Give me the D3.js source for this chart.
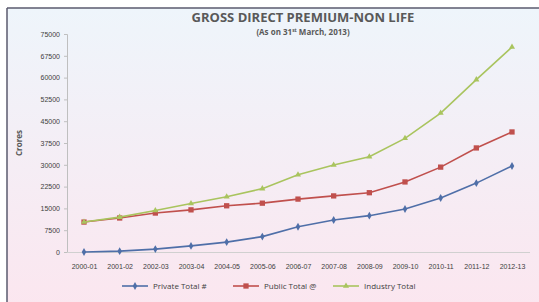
<!DOCTYPE html>
<html lang="en">
<head>
<meta charset="utf-8">
<title>Gross Direct Premium - Non Life</title>
<script src="https://d3js.org/d3.v7.min.js"></script>
<style>
  body { margin: 0; background: #fff; }
  svg { display: block; font-family: "Open Sans", "DejaVu Sans", sans-serif; }
  .title { font-size: 13px; font-weight: bold; fill: #595959; }
  .subtitle { font-size: 8px; font-weight: bold; fill: #595959; }
  .tick text { font-size: 7px; fill: #404040; }
  .legend text { font-size: 8px; fill: #404040; }
</style>
</head>
<body>
<svg width="539" height="302"></svg>
<script>
// data (Rs. crore)
const years = ["2000-01","2001-02","2002-03","2003-04","2004-05","2005-06","2006-07",
               "2007-08","2008-09","2009-10","2010-11","2011-12","2012-13"];
const privateTotal = [0, 300, 1000, 2100, 3400, 5300, 8700, 11000, 12500, 14800, 18600, 23700, 29600];
const publicTotal = [10300, 11700, 13400, 14500, 15900, 16800, 18200, 19300, 20400, 24100, 29200, 35800, 41300];
const industryTotal = [10300, 12000, 14300, 16700, 19000, 21800, 26600, 29900, 32800, 39100, 47800, 59300, 70500];
const yTicks = [0, 7500, 15000, 22500, 30000, 37500, 45000, 52500, 60000, 67500, 75000];

const series = [
  {name: "Private Total #", values: privateTotal, color: "#4F6FA8", shape: d3.symbolDiamond, size: 18},
  {name: "Public Total @", values: publicTotal, color: "#C0504D", shape: d3.symbolSquare, size: 28},
  {name: "Industry Total", values: industryTotal, color: "#A9C45E", shape: d3.symbolTriangle, size: 16}
];

const svg = d3.select("svg");

// background gradient
const defs = svg.append("defs");
const grad = defs.append("linearGradient").attr("id", "bg")
  .attr("x1", 0).attr("y1", 0).attr("x2", 0).attr("y2", 1);
grad.append("stop").attr("offset", "0%").attr("stop-color", "#eef5fb");
grad.append("stop").attr("offset", "100%").attr("stop-color", "#fbe6ef");

svg.append("rect").attr("x", 7).attr("y", 8).attr("width", 540).attr("height", 300)
  .attr("fill", "url(#bg)");
svg.append("line").attr("x1", 7).attr("x2", 539).attr("y1", 8).attr("y2", 8)
  .attr("stroke", "#5a5a6e").attr("stroke-width", 1.5);
svg.append("line").attr("x1", 7).attr("x2", 7).attr("y1", 8).attr("y2", 302)
  .attr("stroke", "#5a5a6e").attr("stroke-width", 1.5);

const x = d3.scalePoint().domain(years).range([84, 512]);
const y = d3.scaleLinear().domain([0, 75000]).range([252, 34]);

// y axis
const yAxis = svg.append("g").attr("transform", "translate(67,0)")
  .call(d3.axisLeft(y).tickValues(yTicks).tickFormat(d3.format("d")).tickSize(3).tickPadding(4));
yAxis.select(".domain").attr("stroke", "#bfbfbf");
yAxis.selectAll(".tick line").attr("stroke", "#bfbfbf");

// x axis
const xAxis = svg.append("g").attr("transform", "translate(0,252)")
  .call(d3.axisBottom(x).tickSize(0).tickPadding(12));
xAxis.select(".domain").attr("d", "M67,0.5H530").attr("stroke", "#d0d0d0");
xAxis.selectAll(".tick text").style("font-size", "7px").attr("fill", "#404040");

// lines
const line = d3.line().x((d, i) => x(years[i])).y(d => y(d));
series.forEach(s => {
  svg.append("path").datum(s.values)
    .attr("fill", "none").attr("stroke", s.color).attr("stroke-width", 1.6)
    .attr("d", line);
  svg.append("g").selectAll("path").data(s.values).join("path")
    .attr("transform", (d, i) => `translate(${x(years[i])},${y(d)})`)
    .attr("d", d3.symbol().type(s.shape).size(s.size))
    .attr("fill", s.color);
});

// titles
svg.append("text").attr("class", "title").attr("x", 303).attr("y", 22)
  .attr("text-anchor", "middle").text("GROSS DIRECT PREMIUM-NON LIFE");
const sub = svg.append("text").attr("class", "subtitle").attr("x", 303).attr("y", 35)
  .attr("text-anchor", "middle");
sub.append("tspan").text("(As on 31");
sub.append("tspan").attr("dy", -3).style("font-size", "5px").text("st");
sub.append("tspan").attr("dy", 3).text(" March, 2013)");

// y label
svg.append("text").attr("transform", "translate(22,143) rotate(-90)")
  .attr("text-anchor", "middle").style("font-size", "8px").style("font-weight", "bold")
  .attr("fill", "#595959").text("Crores");

// legend
const legX = [122, 233, 333];
const leg = svg.append("g").attr("class", "legend");
series.forEach((s, i) => {
  const g = leg.append("g").attr("transform", `translate(${legX[i]},286)`);
  g.append("line").attr("x1", 0).attr("x2", 26).attr("stroke", s.color).attr("stroke-width", 1.6);
  g.append("path").attr("transform", "translate(13,0)")
    .attr("d", d3.symbol().type(s.shape).size(s.size)).attr("fill", s.color);
  g.append("text").attr("x", 31).attr("y", 3).text(s.name);
});
</script>
</body>
</html>
